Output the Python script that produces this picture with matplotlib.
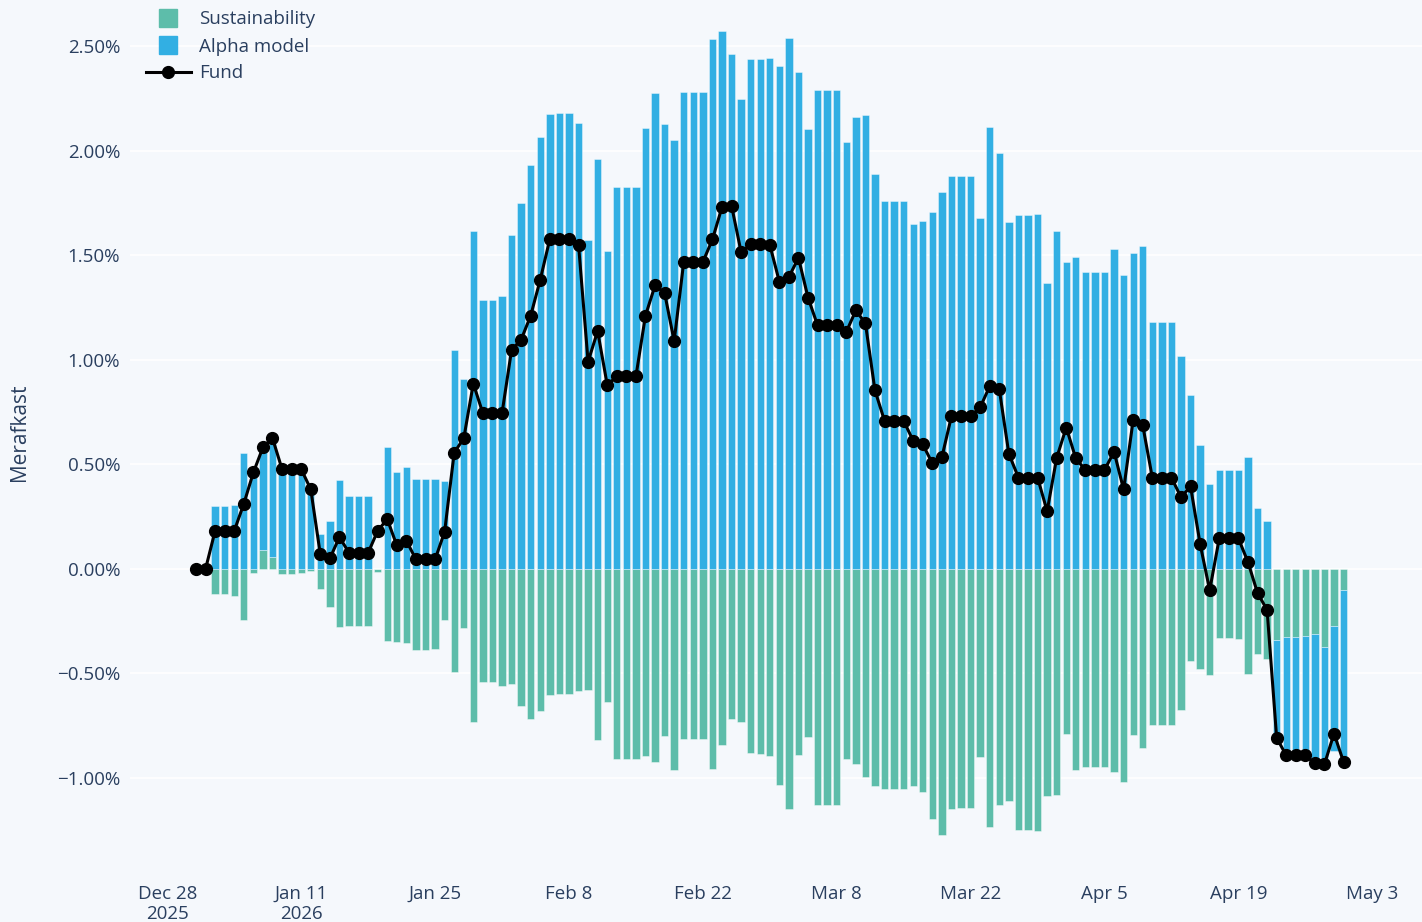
import matplotlib
matplotlib.use("Agg")
import matplotlib.pyplot as plt
import matplotlib.dates as mdates
from matplotlib.lines import Line2D
import numpy as np
import pandas as pd

plt.rcParams['font.family'] = ['Open Sans', 'DejaVu Sans']

# ---------------- data ----------------
dates = pd.date_range("2025-12-31", "2026-04-30", freq="D")

sustainability = [
    0.0, 0.0, -0.121, -0.121, -0.128, -0.244, -0.018, 0.091, 0.055, -0.026,
    -0.026, -0.021, -0.008, -0.096, -0.180, -0.276, -0.273, -0.273, -0.273, -0.013,
    -0.344, -0.349, -0.354, -0.388, -0.388, -0.384, -0.245, -0.495, -0.282, -0.732,
    -0.542, -0.542, -0.562, -0.550, -0.654, -0.718, -0.680, -0.601, -0.600, -0.600,
    -0.582, -0.578, -0.820, -0.637, -0.908, -0.908, -0.908, -0.894, -0.922, -0.801,
    -0.963, -0.815, -0.815, -0.815, -0.956, -0.844, -0.720, -0.730, -0.880, -0.883,
    -0.894, -1.033, -1.147, -0.889, -0.805, -1.127, -1.127, -1.127, -0.907, -0.932,
    -0.995, -1.036, -1.054, -1.054, -1.051, -1.039, -1.066, -1.198, -1.270, -1.150,
    -1.145, -1.145, -0.900, -1.236, -1.127, -1.108, -1.248, -1.248, -1.252, -1.088,
    -1.083, -0.791, -0.960, -0.948, -0.948, -0.948, -0.969, -1.019, -0.794, -0.858,
    -0.748, -0.748, -0.748, -0.676, -0.440, -0.477, -0.509, -0.330, -0.330, -0.333,
    -0.504, -0.408, -0.429, -0.338, -0.325, -0.325, -0.323, -0.310, -0.374, -0.271,
    -0.100,
]

alpha_model = [
    0.0, 0.0, 0.301, 0.301, 0.306, 0.553, 0.479, 0.490, 0.570, 0.503,
    0.503, 0.498, 0.389, 0.166, 0.231, 0.427, 0.349, 0.349, 0.347, 0.0,
    0.581, 0.461, 0.485, 0.431, 0.431, 0.428, 0.421, 1.049, 0.906, 1.616,
    1.284, 1.284, 1.305, 1.596, 1.748, 1.929, 2.063, 2.177, 2.180, 2.180,
    2.132, 1.574, 1.961, 1.521, 1.828, 1.828, 1.828, 2.108, 2.277, 2.127,
    2.051, 2.282, 2.282, 2.282, 2.532, 2.574, 2.460, 2.246, 2.436, 2.437,
    2.444, 2.406, 2.538, 2.376, 2.102, 2.292, 2.292, 2.292, 2.042, 2.163,
    2.168, 1.887, 1.760, 1.760, 1.758, 1.649, 1.662, 1.705, 1.803, 1.878,
    1.878, 1.878, 1.677, 2.112, 1.988, 1.659, 1.693, 1.693, 1.696, 1.367,
    1.616, 1.467, 1.490, 1.421, 1.421, 1.421, 1.531, 1.403, 1.508, 1.545,
    1.182, 1.182, 1.182, 1.018, 0.831, 0.592, 0.407, 0.472, 0.472, 0.475,
    0.536, 0.292, 0.231, -0.469, -0.567, -0.567, -0.569, -0.620, -0.560, -0.600,
    -0.822,
]

fund = [
    0.0, 0.0, 0.182, 0.182, 0.182, 0.311, 0.461, 0.581, 0.625, 0.477,
    0.477, 0.477, 0.381, 0.070, 0.050, 0.152, 0.077, 0.077, 0.077, 0.182,
    0.238, 0.112, 0.135, 0.045, 0.045, 0.045, 0.178, 0.556, 0.624, 0.886,
    0.744, 0.744, 0.744, 1.047, 1.096, 1.211, 1.383, 1.577, 1.578, 1.578,
    1.550, 0.991, 1.137, 0.880, 0.920, 0.920, 0.920, 1.211, 1.355, 1.320,
    1.089, 1.467, 1.467, 1.467, 1.575, 1.729, 1.737, 1.515, 1.552, 1.552,
    1.550, 1.373, 1.396, 1.487, 1.297, 1.164, 1.164, 1.164, 1.133, 1.236,
    1.174, 0.853, 0.708, 0.708, 0.708, 0.612, 0.595, 0.505, 0.535, 0.730,
    0.730, 0.730, 0.772, 0.874, 0.858, 0.550, 0.437, 0.437, 0.437, 0.276,
    0.531, 0.676, 0.528, 0.473, 0.473, 0.473, 0.560, 0.380, 0.713, 0.686,
    0.436, 0.436, 0.436, 0.343, 0.394, 0.119, -0.102, 0.146, 0.146, 0.146,
    0.033, -0.115, -0.196, -0.807, -0.892, -0.892, -0.892, -0.929, -0.934, -0.787,
    -0.923,
]

x_ticks = ["2025-12-28", "2026-01-11", "2026-01-25", "2026-02-08", "2026-02-22",
           "2026-03-08", "2026-03-22", "2026-04-05", "2026-04-19", "2026-05-03"]
x_tick_labels = ["Dec 28\n2025", "Jan 11\n2026", "Jan 25", "Feb 8", "Feb 22",
                 "Mar 8", "Mar 22", "Apr 5", "Apr 19", "May 3"]
y_ticks = [-1.0, -0.5, 0.0, 0.5, 1.0, 1.5, 2.0, 2.5]
y_tick_labels = ["\u22121.00%", "\u22120.50%", "0.00%", "0.50%", "1.00%",
                 "1.50%", "2.00%", "2.50%"]

series_names = ["Sustainability", "Alpha model", "Fund"]

# ---------------- style ----------------
BG = "#F5F8FC"
GREEN = "#5DBDAA"
BLUE = "#32AFE3"
TEXT = "#2A3F5F"

fig = plt.figure(figsize=(14.22, 9.22), dpi=100, facecolor=BG)
W, H = 1422, 922
left_px, right_px, top_px, bottom_px = 130, 1422, 0, 868
ax = fig.add_axes([left_px / W, 1 - bottom_px / H,
                   (right_px - left_px) / W, (bottom_px - top_px) / H])
ax.set_facecolor(BG)

xd = mdates.date2num(dates.to_pydatetime())
sust = np.array(sustainability)
alph = np.array(alpha_model)

# relative stacking (positives up, negatives down, in trace order)
pos_base = np.zeros(len(xd))
neg_base = np.zeros(len(xd))
width = 0.77
for vals, col in [(sust, GREEN), (alph, BLUE)]:
    base = np.where(vals >= 0, pos_base, neg_base)
    ax.bar(xd, vals, bottom=base, width=width, color=col,
           edgecolor=(1, 1, 1, 0.55), linewidth=0.5, zorder=2)
    pos_base = pos_base + np.where(vals >= 0, vals, 0)
    neg_base = neg_base + np.where(vals < 0, vals, 0)

ax.plot(xd, fund, color="black", lw=2.2, marker="o", markersize=8.5, zorder=4)

# axes
start = mdates.date2num(pd.Timestamp("2025-12-31").to_pydatetime())
ax.set_xlim(start - 6.9, start + 128.2)
ax.set_ylim(-1.43, 2.72)

ax.set_yticks(y_ticks)
ax.set_yticklabels(y_tick_labels)
ax.set_xticks([mdates.date2num(pd.Timestamp(t).to_pydatetime()) for t in x_ticks])
ax.set_xticklabels(x_tick_labels, linespacing=1.15)
ax.tick_params(axis="both", length=0, labelsize=13.5, colors=TEXT)
ax.tick_params(axis="y", pad=7)
ax.tick_params(axis="x", pad=12)
ax.grid(True, axis="y", color="white", lw=1.2, zorder=0)
ax.set_axisbelow(True)
for s in ax.spines.values():
    s.set_visible(False)

fig.text(20 / W, 1 - 432 / H, "Merafkast", rotation=90, ha="center", va="center",
         fontsize=15, color=TEXT)

handles = [
    Line2D([], [], marker="s", linestyle="none", markersize=13, color=GREEN),
    Line2D([], [], marker="s", linestyle="none", markersize=13, color=BLUE),
    Line2D([], [], marker="o", color="black", lw=2.2, markersize=8.5),
]
leg = fig.legend(handles, series_names, loc="upper left",
                 bbox_to_anchor=(138 / W, 1 - 3 / H), frameon=False,
                 fontsize=13.5, labelcolor=TEXT, handlelength=2.4,
                 handletextpad=0.45, labelspacing=0.48, borderaxespad=0)

fig.savefig("out.png", dpi=100, facecolor=BG)
